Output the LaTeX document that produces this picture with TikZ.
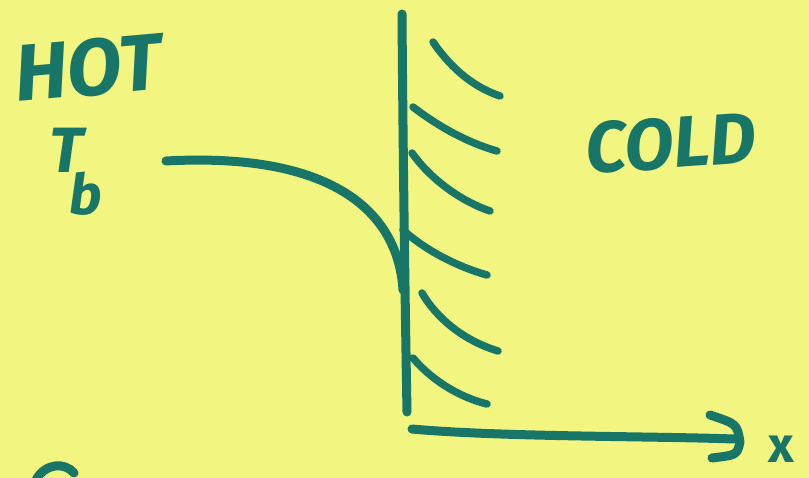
\documentclass[tikz,border=0pt]{standalone}
\usepackage{fontspec}
\setmainfont{Fira Sans}
\definecolor{paper}{RGB}{242,246,128}
\definecolor{ink}{RGB}{24,118,104}
\begin{document}
\begin{tikzpicture}[x=1pt,y=-1pt,
  pen/.style={draw=ink,line width=9pt,line cap=round,line join=round},
  hatch/.style={pen,line width=7.5pt},
  hand/.style={text=ink,inner sep=0pt,anchor=center}]
\fill[paper] (0,0) rectangle (809,478);
\useasboundingbox (0,0) rectangle (809,478);
\clip (0,0) rectangle (809,478);
% labels
\node[hand,font=\fontsize{80}{80}\selectfont\bfseries\itshape,rotate=5] (hot) at (88,68) {HOT};
\node[hand,font=\fontsize{64}{64}\selectfont\bfseries\itshape] (tT) at (66,150) {T};
\node[hand,font=\fontsize{56}{56}\selectfont\bfseries\itshape] (tb) at (86,194) {b};
\node[hand,font=\fontsize{72}{72}\selectfont\bfseries\itshape,rotate=4] (cold) at (671,143) {COLD};
\node[hand,font=\fontsize{50}{50}\selectfont\bfseries] (xl) at (781,449) {x};
% wall
\coordinate (wt) at (402,14);
\coordinate (wb) at (407,412);
\draw[pen] (wt) .. controls (403,150) and (405,300) .. (wb);
% temperature profile
\coordinate (t0) at (166,161);
\coordinate (t1) at (403,290);
\draw[pen] (t0) .. controls (330,152) and (398,210) .. (t1);
% hatches
\coordinate (ha1) at (433,42);  \coordinate (hb1) at (500,96);
\coordinate (ha2) at (413,107); \coordinate (hb2) at (497,151);
\coordinate (ha3) at (412,153); \coordinate (hb3) at (490,211);
\coordinate (ha4) at (403,230); \coordinate (hb4) at (487,275);
\coordinate (ha5) at (422,293); \coordinate (hb5) at (498,351);
\coordinate (ha6) at (413,358); \coordinate (hb6) at (487,404);
\draw[hatch] (ha1) .. controls (448,64) and (470,86) .. (hb1);
\draw[hatch] (ha2) .. controls (435,124) and (465,142) .. (hb2);
\draw[hatch] (ha3) .. controls (429,177) and (458,200) .. (hb3);
\draw[hatch] (ha4) .. controls (424,249) and (455,266) .. (hb4);
\draw[hatch] (ha5) .. controls (436,317) and (462,340) .. (hb5);
\draw[hatch] (ha6) .. controls (429,377) and (455,396) .. (hb6);
% x axis
\coordinate (a0) at (412,429);
\coordinate (a1) at (734,439);
\draw[pen] (a0) .. controls (500,437) and (650,436) .. (a1);
\coordinate (h0) at (710,415);
\coordinate (h1) at (740,442);
\coordinate (h2) at (712,458);
\draw[pen] (h0) .. controls (737,424) .. (h1) .. controls (737,455) .. (h2);
% partial stroke bottom left
\coordinate (s0) at (36,480);
\coordinate (s1) at (74,473);
\draw[pen] (s0) .. controls (45,463) and (65,462) .. (s1);
\end{tikzpicture}
\end{document}
